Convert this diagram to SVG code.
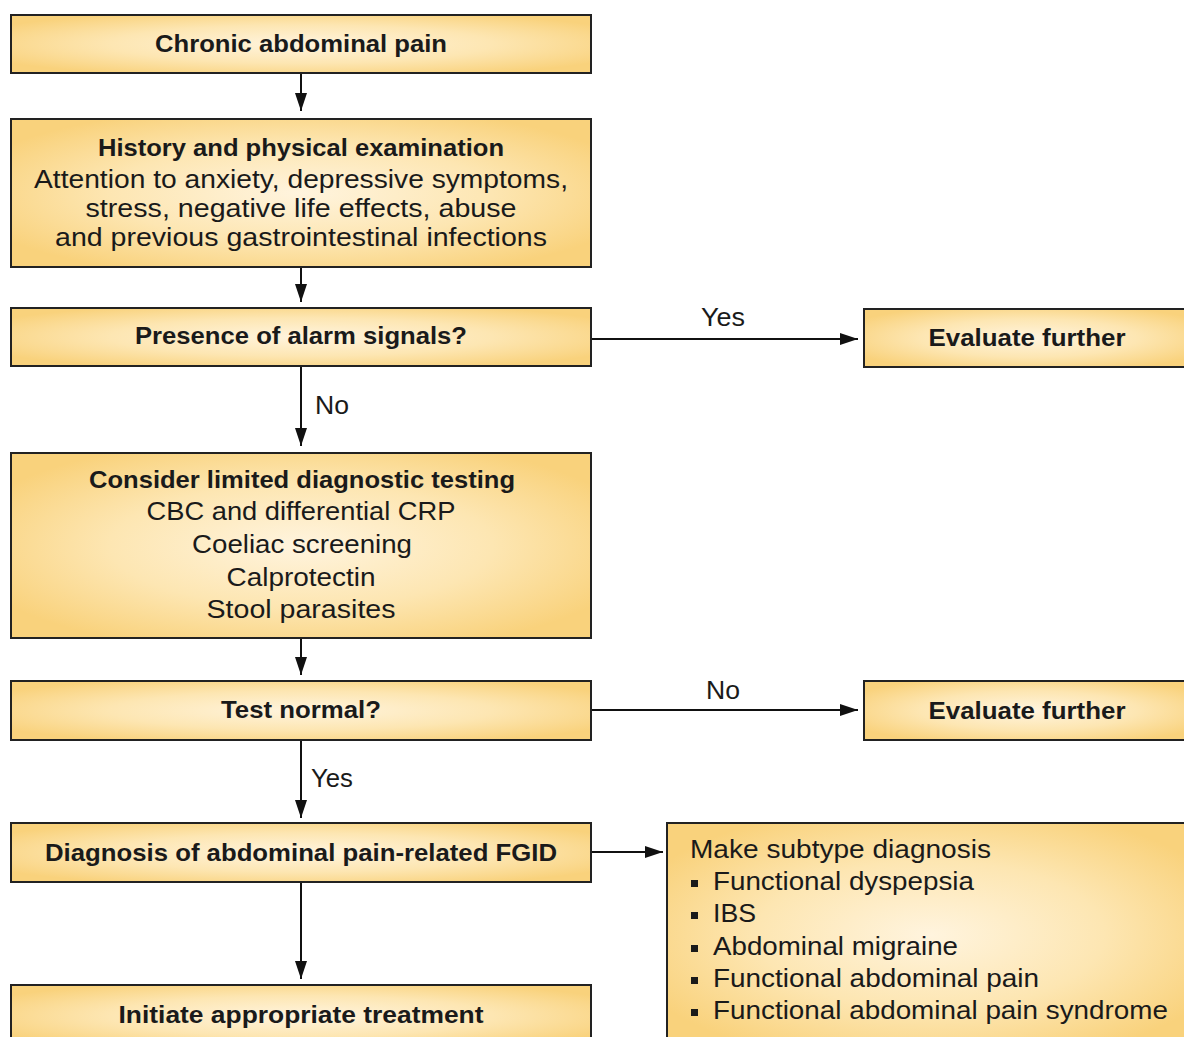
<svg xmlns="http://www.w3.org/2000/svg" width="1184" height="1037" viewBox="0 0 1184 1037">
  <defs>
    <radialGradient id="boxFill" cx="50%" cy="50%" r="60%">
      <stop offset="0" stop-color="#fff4de"/>
      <stop offset="0.55" stop-color="#fde6b2"/>
      <stop offset="1" stop-color="#f9d27c"/>
    </radialGradient>
    <marker id="arrow" viewBox="0 0 18 12" refX="18" refY="6" markerWidth="18" markerHeight="12" markerUnits="userSpaceOnUse" orient="auto">
      <path d="M0,0 L18,6 L0,12 Z" fill="#111"/>
    </marker>
  </defs>
  <style>
    .box { fill: url(#boxFill); stroke: #222; stroke-width: 2; }
    .t { font-family: "Liberation Sans Narrow", "Liberation Sans", Arial, sans-serif; font-size: 25px; fill: #1a1a1a; }
    .b { font-weight: bold; font-size: 24px; }
    .c { text-anchor: middle; }
    .lbl { font-family: "Liberation Sans Narrow", "Liberation Sans", Arial, sans-serif; font-size: 25px; fill: #1a1a1a; }
    .edge { stroke: #111; stroke-width: 2; fill: none; marker-end: url(#arrow); }
    .bullet { fill: #1a1a1a; }
  </style>
  <rect width="1184" height="1037" fill="#ffffff"/>

  <!-- connectors -->
  <g id="connectors">
    <line class="edge" x1="301" y1="73" x2="301" y2="111"/>
    <line class="edge" x1="301" y1="267" x2="301" y2="302"/>
    <line class="edge" x1="591" y1="339" x2="858" y2="339"/>
    <line class="edge" x1="301" y1="366" x2="301" y2="446"/>
    <line class="edge" x1="301" y1="638" x2="301" y2="675"/>
    <line class="edge" x1="591" y1="710" x2="858" y2="710"/>
    <line class="edge" x1="301" y1="740" x2="301" y2="818"/>
    <line class="edge" x1="591" y1="852" x2="663" y2="852"/>
    <line class="edge" x1="301" y1="882" x2="301" y2="979"/>
    <text class="lbl c" x="723" y="326" textLength="44" lengthAdjust="spacingAndGlyphs">Yes</text>
    <text class="lbl" x="315" y="414" textLength="34" lengthAdjust="spacingAndGlyphs">No</text>
    <text class="lbl c" x="723" y="699" textLength="34" lengthAdjust="spacingAndGlyphs">No</text>
    <text class="lbl" x="311" y="787" textLength="42" lengthAdjust="spacingAndGlyphs">Yes</text>
  </g>

  <g id="chronic-pain">
    <rect class="box" x="11" y="15" width="580" height="58"/>
    <text class="t b c" x="301" y="52" textLength="292" lengthAdjust="spacingAndGlyphs">Chronic abdominal pain</text>
  </g>

  <g id="history-exam">
    <rect class="box" x="11" y="119" width="580" height="148"/>
    <text class="t b c" x="301" y="156" textLength="406" lengthAdjust="spacingAndGlyphs">History and physical examination</text>
    <text class="t c" x="301" y="188" textLength="534" lengthAdjust="spacingAndGlyphs">Attention to anxiety, depressive symptoms,</text>
    <text class="t c" x="301" y="217" textLength="431" lengthAdjust="spacingAndGlyphs">stress, negative life effects, abuse</text>
    <text class="t c" x="301" y="246" textLength="492" lengthAdjust="spacingAndGlyphs">and previous gastrointestinal infections</text>
  </g>

  <g id="alarm-signals">
    <rect class="box" x="11" y="308" width="580" height="58"/>
    <text class="t b c" x="301" y="344" textLength="332" lengthAdjust="spacingAndGlyphs">Presence of alarm signals?</text>
  </g>

  <g id="evaluate-further-1">
    <rect class="box" x="864" y="309" width="330" height="58"/>
    <text class="t b c" x="1027" y="346" textLength="197" lengthAdjust="spacingAndGlyphs">Evaluate further</text>
  </g>

  <g id="limited-testing">
    <rect class="box" x="11" y="453" width="580" height="185"/>
    <text class="t b c" x="302" y="488" textLength="426" lengthAdjust="spacingAndGlyphs">Consider limited diagnostic testing</text>
    <text class="t c" x="301" y="520" textLength="309" lengthAdjust="spacingAndGlyphs">CBC and differential CRP</text>
    <text class="t c" x="302" y="553" textLength="220" lengthAdjust="spacingAndGlyphs">Coeliac screening</text>
    <text class="t c" x="301" y="586" textLength="149" lengthAdjust="spacingAndGlyphs">Calprotectin</text>
    <text class="t c" x="301" y="618" textLength="189" lengthAdjust="spacingAndGlyphs">Stool parasites</text>
  </g>

  <g id="test-normal">
    <rect class="box" x="11" y="681" width="580" height="59"/>
    <text class="t b c" x="301" y="718" textLength="160" lengthAdjust="spacingAndGlyphs">Test normal?</text>
  </g>

  <g id="evaluate-further-2">
    <rect class="box" x="864" y="681" width="330" height="59"/>
    <text class="t b c" x="1027" y="719" textLength="197" lengthAdjust="spacingAndGlyphs">Evaluate further</text>
  </g>

  <g id="fgid-diagnosis">
    <rect class="box" x="11" y="823" width="580" height="59"/>
    <text class="t b c" x="301" y="861" textLength="512" lengthAdjust="spacingAndGlyphs">Diagnosis of abdominal pain-related FGID</text>
  </g>

  <g id="subtype-diagnosis">
    <rect class="box" x="667" y="823" width="527" height="224"/>
    <text class="t" x="690" y="858" textLength="301" lengthAdjust="spacingAndGlyphs">Make subtype diagnosis</text>
    <rect class="bullet" x="691" y="880" width="7" height="7"/>
    <text class="t" x="713" y="890" textLength="261" lengthAdjust="spacingAndGlyphs">Functional dyspepsia</text>
    <rect class="bullet" x="691" y="912" width="7" height="7"/>
    <text class="t" x="713" y="922" textLength="43" lengthAdjust="spacingAndGlyphs">IBS</text>
    <rect class="bullet" x="691" y="945" width="7" height="7"/>
    <text class="t" x="713" y="955" textLength="245" lengthAdjust="spacingAndGlyphs">Abdominal migraine</text>
    <rect class="bullet" x="691" y="977" width="7" height="7"/>
    <text class="t" x="713" y="987" textLength="326" lengthAdjust="spacingAndGlyphs">Functional abdominal pain</text>
    <rect class="bullet" x="691" y="1009" width="7" height="7"/>
    <text class="t" x="713" y="1019" textLength="455" lengthAdjust="spacingAndGlyphs">Functional abdominal pain syndrome</text>
  </g>

  <g id="initiate-treatment">
    <rect class="box" x="11" y="985" width="580" height="62"/>
    <text class="t b c" x="301" y="1023" textLength="365" lengthAdjust="spacingAndGlyphs">Initiate appropriate treatment</text>
  </g>
</svg>
